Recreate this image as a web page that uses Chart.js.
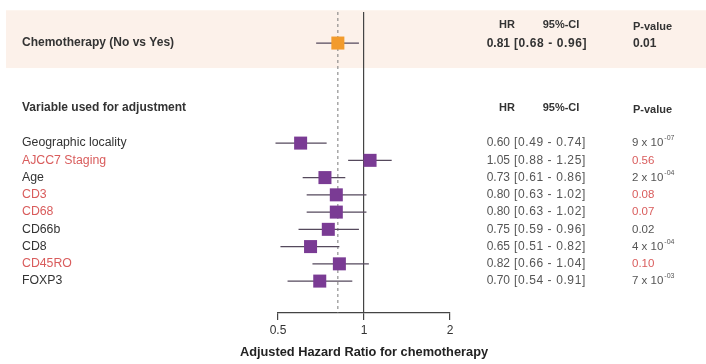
<!DOCTYPE html>
<html>
<head>
<meta charset="utf-8">
<script src="https://cdn.jsdelivr.net/npm/chart.js@4/dist/chart.umd.min.js"></script>
<style>
  html, body { margin: 0; padding: 0; background: #ffffff; }
  #wrap { width: 706px; height: 364px; position: relative; }
</style>
</head>
<body>
<div id="wrap"><canvas id="forest" width="706" height="364"></canvas></div>
<script>
// Unadjusted effect of chemotherapy
const mainLabel = 'Chemotherapy (No vs Yes)';
const mainHR = 0.81;
const mainLow = 0.68;
const mainHigh = 0.96;
const mainP = '0.01';

// Effect of chemotherapy after adjustment for each variable
const variables = ['Geographic locality', 'AJCC7 Staging', 'Age', 'CD3', 'CD68', 'CD66b', 'CD8', 'CD45RO', 'FOXP3'];
const hrValues = [0.60, 1.05, 0.73, 0.80, 0.80, 0.75, 0.65, 0.82, 0.70];
const ciLow = [0.49, 0.88, 0.61, 0.63, 0.63, 0.59, 0.51, 0.66, 0.54];
const ciHigh = [0.74, 1.25, 0.86, 1.02, 1.02, 0.96, 0.82, 1.04, 0.91];
const pBase = ['9 x 10', '0.56', '2 x 10', '0.08', '0.07', '0.02', '4 x 10', '0.10', '7 x 10'];
const pExp = ['-07', '', '-04', '', '', '', '-04', '', '-03'];
const notSignificant = [false, true, false, true, true, false, false, true, false];

// Axis ticks and title
const xTicks = [0.5, 1, 2];
const xTitle = 'Adjusted Hazard Ratio for chemotherapy';

// Vertical layout in row units (row i sits at y = i)
const MAIN_ROW = -5.8;
const TOP_HEADER = -6.85;
const SUB_HEADER = -2.05;
const Y_MIN = -7.6;
const Y_MAX = 9.85;

const FONT = '"Liberation Sans", Arial, Helvetica, sans-serif';
const TEXT = '#333333';
const GREY = '#555555';
const RED = '#d95c5c';
const PURPLE = '#7a3b94';
const ORANGE = '#f29b2c';
const WHISKER = '#55495c';

const fmt = v => v.toFixed(2);

// Confidence interval segments, one line dataset per row
const ciSets = variables.map((name, i) => ({
  type: 'line',
  label: name + ' CI',
  data: [{ x: ciLow[i], y: i }, { x: ciHigh[i], y: i }],
  borderColor: WHISKER,
  borderWidth: 1.2,
  pointRadius: 0,
  clip: false,
  order: 2
}));
ciSets.push({
  type: 'line',
  label: mainLabel + ' CI',
  data: [{ x: mainLow, y: MAIN_ROW }, { x: mainHigh, y: MAIN_ROW }],
  borderColor: WHISKER,
  borderWidth: 1.2,
  pointRadius: 0,
  clip: false,
  order: 2
});

// Dashed reference line at the unadjusted HR
const refLine = {
  type: 'line',
  label: 'unadjusted HR',
  data: [{ x: mainHR, y: Y_MIN }, { x: mainHR, y: Y_MAX }],
  borderColor: '#7a7a7a',
  borderWidth: 1,
  borderDash: [3, 3],
  pointRadius: 0,
  order: 3
};

const adjustedPoints = {
  type: 'scatter',
  label: 'adjusted HR',
  data: hrValues.map((v, i) => ({ x: v, y: i })),
  pointStyle: 'rect',
  pointRadius: 9.2,
  backgroundColor: PURPLE,
  borderWidth: 0,
  clip: false,
  order: 0
};

const mainPoint = {
  type: 'scatter',
  label: 'unadjusted HR point',
  data: [{ x: mainHR, y: MAIN_ROW }],
  pointStyle: 'rect',
  pointRadius: 9.2,
  backgroundColor: ORANGE,
  borderWidth: 0,
  clip: false,
  order: 0
};

// Shaded band behind the unadjusted row
const bandPlugin = {
  id: 'band',
  beforeDraw(chart) {
    const { ctx, scales: { y } } = chart;
    const top = y.getPixelForValue(MAIN_ROW - 1.9);
    const bottom = y.getPixelForValue(MAIN_ROW + 1.45);
    ctx.save();
    ctx.fillStyle = '#fcf1ea';
    ctx.fillRect(6, top, chart.width - 6, bottom - top);
    ctx.restore();
  }
};

// Row labels, the HR / CI / P-value table and the axis title
const tablePlugin = {
  id: 'table',
  afterDraw(chart) {
    const { ctx, scales: { x, y } } = chart;
    ctx.save();
    ctx.textBaseline = 'middle';

    const ciText = (lo, hi, py, weight, color) => {
      ctx.font = weight + ' 12px ' + FONT;
      ctx.fillStyle = color;
      ctx.textAlign = 'left';
      ctx.letterSpacing = '0.6px';
      ctx.fillText('[' + fmt(lo) + ' - ' + fmt(hi) + ']', 514, py);
      ctx.letterSpacing = '0px';
    };

    const header = (py) => {
      ctx.font = 'bold 11px ' + FONT;
      ctx.fillStyle = TEXT;
      ctx.textAlign = 'center';
      ctx.fillText('HR', 507, py);
      ctx.fillText('95%-CI', 561, py);
      ctx.textAlign = 'left';
      ctx.fillText('P-value', 633, py + 2);
    };

    // unadjusted block
    header(y.getPixelForValue(TOP_HEADER));
    const my = y.getPixelForValue(MAIN_ROW);
    ctx.font = 'bold 12px ' + FONT;
    ctx.fillStyle = TEXT;
    ctx.textAlign = 'left';
    ctx.fillText(mainLabel, 22, my);
    ctx.font = 'bold 12px ' + FONT;
    ctx.textAlign = 'right';
    ctx.fillText(fmt(mainHR), 510, my + 1);
    ciText(mainLow, mainHigh, my + 1, 'bold', TEXT);
    ctx.font = 'bold 12px ' + FONT;
    ctx.textAlign = 'left';
    ctx.fillText(mainP, 633, my + 1);

    // adjusted block
    const sy = y.getPixelForValue(SUB_HEADER);
    ctx.font = 'bold 12px ' + FONT;
    ctx.fillStyle = TEXT;
    ctx.textAlign = 'left';
    ctx.fillText('Variable used for adjustment', 22, sy);
    header(sy);

    variables.forEach((name, i) => {
      const py = y.getPixelForValue(i);
      ctx.font = '12.3px ' + FONT;
      ctx.fillStyle = notSignificant[i] ? RED : TEXT;
      ctx.textAlign = 'left';
      ctx.fillText(name, 22, py);

      ctx.font = '12px ' + FONT;
      ctx.fillStyle = GREY;
      ctx.textAlign = 'right';
      ctx.fillText(fmt(hrValues[i]), 510, py);
      ciText(ciLow[i], ciHigh[i], py, 'normal', GREY);

      ctx.font = '11.5px ' + FONT;
      ctx.fillStyle = notSignificant[i] ? RED : GREY;
      ctx.textAlign = 'left';
      ctx.fillText(pBase[i], 632, py);
      if (pExp[i]) {
        const w = ctx.measureText(pBase[i]).width;
        ctx.font = '7px ' + FONT;
        ctx.fillText(pExp[i], 632 + w + 1, py - 5);
      }
    });

    // axis title, centred under the axis
    ctx.font = 'bold 12.8px ' + FONT;
    ctx.fillStyle = '#222222';
    ctx.textAlign = 'center';
    ctx.fillText(xTitle, (x.left + x.right) / 2, 352);
    ctx.restore();
  }
};

new Chart(document.getElementById('forest'), {
  data: { datasets: [refLine, ...ciSets, mainPoint, adjustedPoints] },
  options: {
    responsive: false,
    animation: false,
    layout: { padding: { left: 278, right: 256, top: 12, bottom: 0 } },
    plugins: { legend: { display: false }, tooltip: { enabled: false } },
    scales: {
      x: {
        type: 'logarithmic',
        min: 0.5,
        max: 2,
        afterBuildTicks(scale) { scale.ticks = xTicks.map(v => ({ value: v })); },
        afterFit(scale) { scale.height = 51; },
        ticks: {
          callback: v => String(v),
          color: TEXT,
          font: { family: FONT, size: 12 },
          padding: 3,
          maxRotation: 0,
          autoSkip: false
        },
        grid: {
          drawOnChartArea: true,
          color: c => (c.tick && c.tick.value === 1) ? '#444444' : 'rgba(0,0,0,0)',
          tickColor: '#444444',
          tickLength: 7,
          lineWidth: 1.2
        },
        border: { display: true, color: '#444444', width: 1.2 }
      },
      y: {
        type: 'linear',
        reverse: true,
        min: Y_MIN,
        max: Y_MAX,
        display: false
      }
    }
  },
  plugins: [bandPlugin, tablePlugin]
});
</script>
</body>
</html>
